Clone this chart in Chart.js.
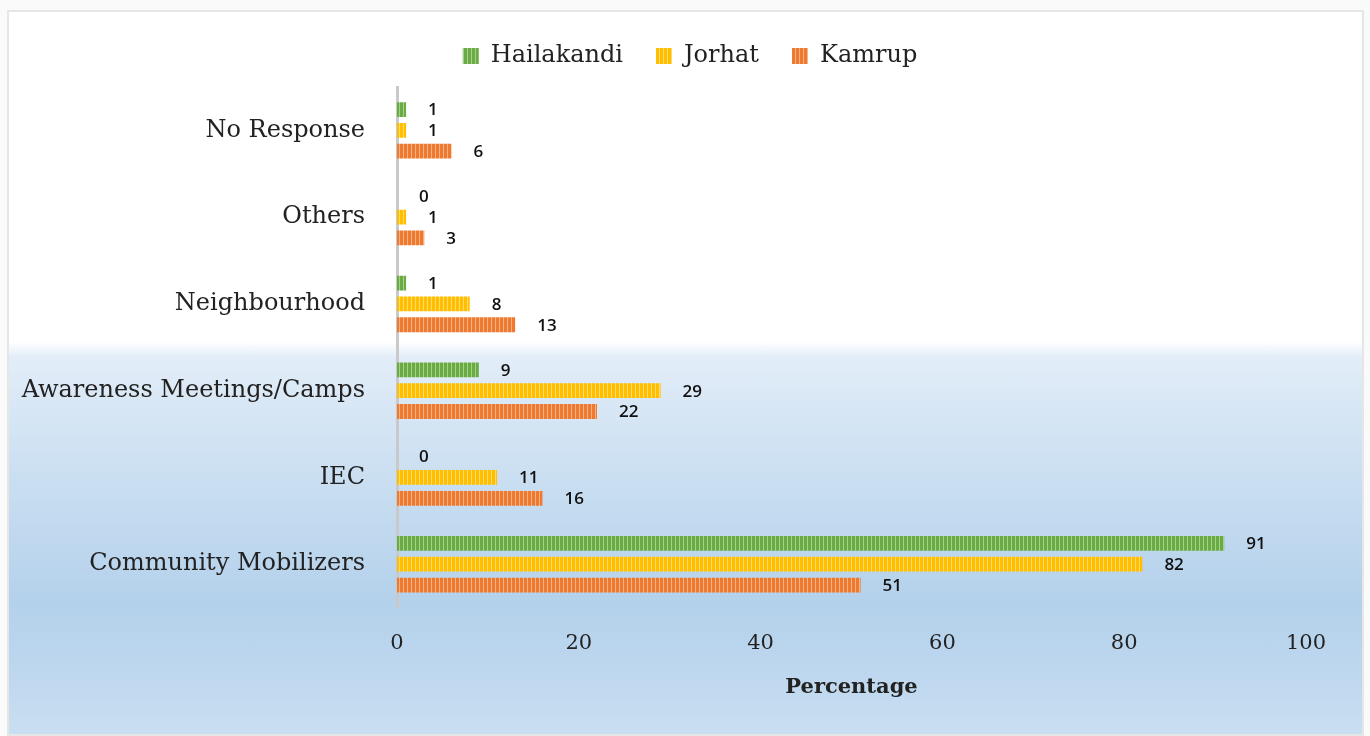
<!DOCTYPE html>
<html>
<head>
<meta charset="utf-8">
<script src="https://cdn.jsdelivr.net/npm/chart.js@4"></script>
<style>
  html, body { margin: 0; padding: 0; background: #fafafa; }
  .chartBox {
    position: absolute; left: 7px; top: 10px; width: 1357px; height: 726px;
    border: 2px solid #e6e6e6; box-sizing: border-box;
    background: linear-gradient(to bottom, #ffffff 0px, #ffffff 330px, #e2edf8 345px, #c9def1 470px, #b4d1eb 590px, #bcd6ee 650px, #cadff1 726px);
  }
  canvas { position: absolute; left: 0; top: 0; }
</style>
</head>
<body>
<div class="chartBox"></div>
<canvas id="chart" width="1370" height="736"></canvas>
<script>
const categories = ["No Response", "Others", "Neighbourhood", "Awareness Meetings/Camps", "IEC", "Community Mobilizers"];
const hailakandi = [1, 0, 1, 9, 0, 91];
const jorhat = [1, 1, 8, 29, 11, 82];
const kamrup = [6, 3, 13, 22, 16, 51];
const xTicks = [0, 20, 40, 60, 80, 100];

const serif = "'DejaVu Serif', serif";

// vertical stripes like the original fill
function stripes(base, light) {
  const c = document.createElement("canvas");
  c.width = 4; c.height = 4;
  const g = c.getContext("2d");
  g.fillStyle = base; g.fillRect(0, 0, 4, 4);
  g.fillStyle = light; g.fillRect(3, 0, 1, 4);
  return document.getElementById("chart").getContext("2d").createPattern(c, "repeat");
}

// extra room under the legend, and legend centred on the page rather than the plot
const legendTweak = {
  id: "legendTweak",
  beforeInit(chart) {
    const fit = chart.legend.fit;
    chart.legend.fit = function () {
      fit.bind(chart.legend)();
      this.height += 9;
    };
  },
  afterLayout(chart) {
    chart.legend.left += 32;
    chart.legend.right += 32;
  }
};

const valueLabels = {
  id: "valueLabels",
  afterDatasetsDraw(chart) {
    const ctx = chart.ctx;
    ctx.save();
    ctx.font = "600 17px 'Open Sans', sans-serif";
    ctx.fillStyle = "#111";
    ctx.textBaseline = "middle";
    chart.data.datasets.forEach((ds, i) => {
      chart.getDatasetMeta(i).data.forEach((bar, j) => {
        ctx.fillText(ds.data[j], bar.x + 22, bar.y + 1);
      });
    });
    ctx.restore();
  }
};

new Chart(document.getElementById("chart"), {
  type: "bar",
  data: {
    labels: categories,
    datasets: [
      { label: "Hailakandi", data: hailakandi, backgroundColor: stripes("#6aab45", "#a6d286") },
      { label: "Jorhat", data: jorhat, backgroundColor: stripes("#ffbf00", "#ffdc6a") },
      { label: "Kamrup", data: kamrup, backgroundColor: stripes("#ee7a30", "#f6b184") },
    ],
  },
  options: {
    indexAxis: "y",
    responsive: false,
    animation: false,
    layout: { padding: { left: 10, right: 64, top: 11, bottom: 32 } },
    datasets: { bar: { categoryPercentage: 0.72, barPercentage: 0.71 } },
    plugins: {
      legend: {
        position: "top",
        labels: {
          font: { family: serif, size: 24 },
          color: "#222",
          boxWidth: 16,
          boxHeight: 16,
          padding: 33,
        },
      },
      tooltip: { enabled: false },
    },
    scales: {
      x: {
        min: 0,
        max: 100,
        afterBuildTicks: (scale) => { scale.ticks = xTicks.map((v) => ({ value: v })); },
        grid: { display: false },
        border: { display: false },
        ticks: { font: { family: serif, size: 21 }, color: "#222", padding: 15 },
        title: { display: true, text: "Percentage", font: { family: serif, size: 21, weight: "bold" }, color: "#222", padding: { top: 4 } },
      },
      y: {
        afterFit: (scale) => { scale.width = 387; },
        grid: { display: false },
        border: { display: true, color: "#c9c9c9", width: 3 },
        ticks: { font: { family: serif, size: 24 }, color: "#222", padding: 24 },
      },
    },
  },
  plugins: [valueLabels, legendTweak],
});
</script>
</body>
</html>
